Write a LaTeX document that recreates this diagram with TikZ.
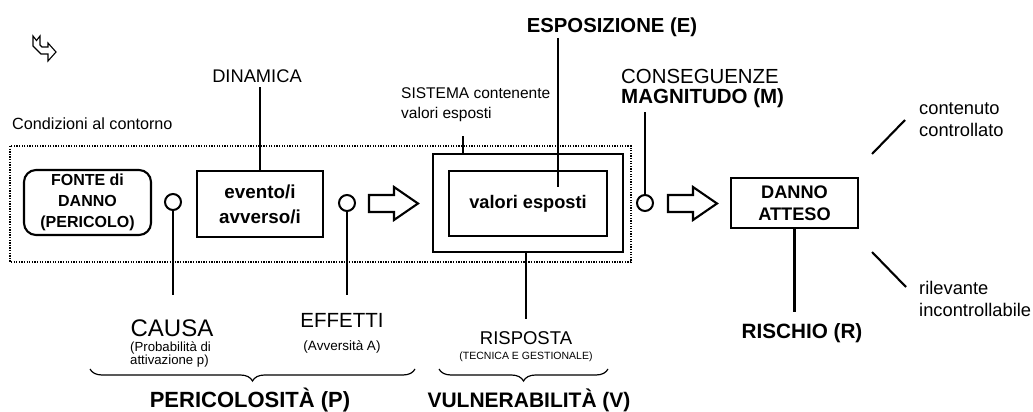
\documentclass[tikz,border=0pt]{standalone}
\usepackage{fontspec}
\setmainfont{Liberation Sans}
\usetikzlibrary{decorations.pathreplacing}
\newcommand\fsz[2]{\fontsize{#1}{#2}\selectfont}
\begin{document}
\begin{tikzpicture}[x=1pt,y=-1pt,
  conn/.style={line width=2.1pt},
  boxn/.style={draw, line width=2.1pt, inner sep=0pt, align=center},
  lab/.style={inner sep=0pt, anchor=base},
  ring/.style={draw, circle, line width=2pt, minimum size=16pt, inner sep=0pt},
  dotb/.style={line width=1.4pt, dash pattern=on 1.3pt off 1.3pt},
  brc/.style={decorate, decoration={brace, mirror, amplitude=12pt}, line width=1.2pt},
  blk/.style={line width=2.1pt, line join=miter}]
\useasboundingbox (0,0) rectangle (1033,412);

% icon
\draw[line width=1.1pt, line join=miter] (33,36) -- (33,46) -- (41,54) -- (48,54) -- (48,61) -- (56,52) -- (48,43) -- (48,47) -- (42,47) -- (40,45) -- (40,36) -- (36.5,40.5) -- cycle;

% dotted boundary
\draw[dotb] (10,146) rectangle (631,262);

% boxes
\node[boxn, rounded corners=12pt, minimum width=127pt, minimum height=65pt, font=\bfseries\fsz{16}{21}] (fonte) at (87.5,202.5) {FONTE di\\DANNO\\(PERICOLO)};
\node[boxn, minimum width=126pt, minimum height=66pt, font=\bfseries\fsz{18.8}{25}] (ev) at (260,204) {evento/i\\avverso/i};
\node[boxn, minimum width=190pt, minimum height=98pt] (sys) at (528,203) {};
\node[boxn, minimum width=158pt, minimum height=65pt, font=\bfseries\fsz{18.2}{22}] (val) at (528,203.5) {valori esposti};
\node[boxn, minimum width=127pt, minimum height=50pt, font=\bfseries\fsz{18.2}{22}] (dan) at (794.5,203) {DANNO\\ATTESO};

% rings
\node[ring] (c1) at (173,202) {};
\node[ring] (c2) at (347,203) {};
\node[ring] (c3) at (645,203) {};

% block arrows
\draw[blk] (369,195) -- (394,195) -- (394,187) -- (418,203.5) -- (394,220) -- (394,212) -- (369,212) -- cycle;
\draw[blk] (668,195) -- (693,195) -- (693,187) -- (717,203.5) -- (693,220) -- (693,212) -- (668,212) -- cycle;

% labels
\node[lab, anchor=base west, font=\fsz{16.2}{20}] (cond) at (12,129.5) {Condizioni al contorno};
\node[lab, font=\fsz{18.3}{22}] (dyn) at (257,82) {DINAMICA};
\node[lab, font=\bfseries\fsz{20.3}{24}] (esp) at (612,33) {ESPOSIZIONE (E)};
\node[lab, anchor=base west, font=\fsz{15.5}{20}] (sis1) at (401,98.5) {SISTEMA contenente};
\node[lab, anchor=base west, font=\fsz{15.5}{20}] (sis2) at (401,118.3) {valori esposti};
\node[lab, anchor=base west, font=\fsz{20.4}{24}] (cons) at (621,83.3) {CONSEGUENZE};
\node[lab, anchor=base west, font=\bfseries\fsz{20.5}{24}] (mag) at (621,103.5) {MAGNITUDO (M)};
\node[lab, anchor=base west, font=\fsz{18.3}{22}] (cont1) at (919,114) {contenuto};
\node[lab, anchor=base west, font=\fsz{18.3}{22}] (cont2) at (919,136.7) {controllato};
\node[lab, anchor=base west, font=\fsz{18.3}{22}] (ril1) at (919,294) {rilevante};
\node[lab, anchor=base west, font=\fsz{18.3}{22}] (ril2) at (919,316.7) {incontrollabile};
\node[lab, font=\bfseries\fsz{20.7}{24}] (ris) at (802,338) {RISCHIO (R)};
\node[lab, font=\fsz{24}{28}] (causa) at (172,336) {CAUSA};
\node[lab, anchor=base west, font=\fsz{13.2}{14}] (prob1) at (130,351) {(Probabilità di};
\node[lab, anchor=base west, font=\fsz{13.2}{14}] (prob2) at (130,364) {attivazione p)};
\node[lab, font=\fsz{20.5}{24}] (eff) at (342,327) {EFFETTI};
\node[lab, font=\fsz{13.5}{16}] (avv) at (342,350) {(Avversità A)};
\node[lab, font=\fsz{18.5}{22}] (risp) at (526,344) {RISPOSTA};
\node[lab, font=\fsz{10.5}{12}] (tec) at (526,359) {(TECNICA E GESTIONALE)};
\node[lab, font=\bfseries\fsz{22}{26}] (per) at (250,407) {PERICOLOSITÀ (P)};
\node[lab, font=\bfseries\fsz{21}{26}] (vul) at (529,407) {VULNERABILITÀ (V)};

% connector end points
\coordinate (dynE) at (260,87);
\coordinate (espT) at (558,38);
\coordinate (espB) at (558,187);
\coordinate (tkT) at (463,136);
\coordinate (magT) at (645,112);
\coordinate (c1B) at (173,295);
\coordinate (c2B) at (347,295);
\coordinate (rspT) at (526,319);
\coordinate (danB) at (794.5,312);
\coordinate (s1a) at (872,154);
\coordinate (s1b) at (905,120);
\coordinate (s2a) at (872,252);
\coordinate (s2b) at (906,287);

% connectors
\draw[conn] (ev.north) -- (dynE);
\draw[conn] (espT) -- (espB);
\draw[conn] (tkT) -- (tkT |- sys.north);
\draw[conn] (c3.north) -- (magT);
\draw[conn] (c1.south) -- (c1B);
\draw[conn] (c2.south) -- (c2B);
\draw[conn] (rspT |- sys.south) -- (rspT);
\draw[conn] (dan.south) -- (danB);
\draw[conn] (s1a) -- (s1b);
\draw[conn] (s2a) -- (s2b);

% braces
\draw[brc] (90,369) -- (415,369);
\draw[brc] (439,369) -- (608,369);
\end{tikzpicture}
\end{document}
